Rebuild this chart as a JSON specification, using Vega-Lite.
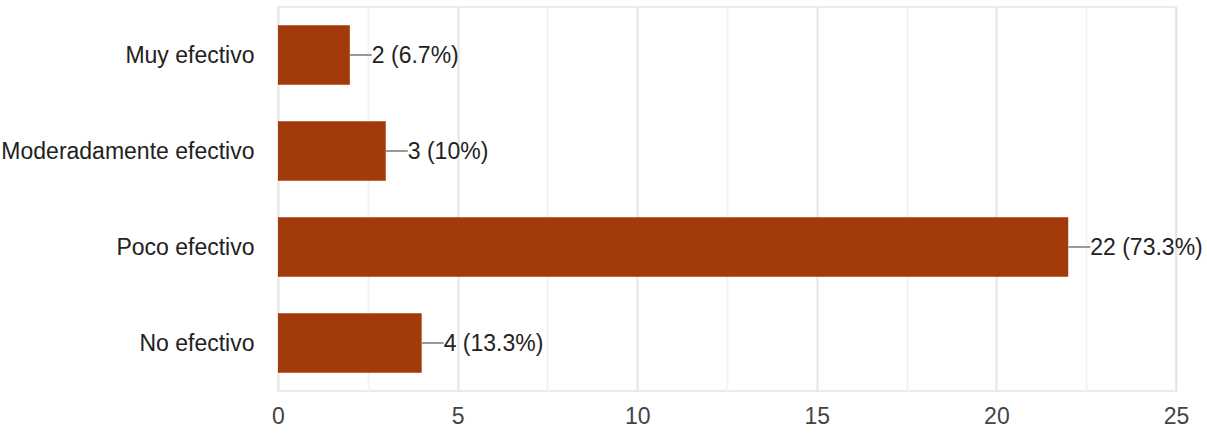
{
  "$schema": "https://vega.github.io/schema/vega-lite/v6.json",
  "width": 898,
  "height": 384,
  "autosize": {"type": "none"},
  "padding": {"left": 278, "top": 7, "right": 31, "bottom": 47},
  "background": "white",
  "config": {
    "view": {"stroke": "#ebebeb", "strokeWidth": 2},
    "font": "Liberation Sans"
  },
  "data": {
    "values": [
      {"cat": "Muy efectivo", "n": 2, "label": "2 (6.7%)"},
      {"cat": "Moderadamente efectivo", "n": 3, "label": "3 (10%)"},
      {"cat": "Poco efectivo", "n": 22, "label": "22 (73.3%)"},
      {"cat": "No efectivo", "n": 4, "label": "4 (13.3%)"}
    ]
  },
  "encoding": {
    "y": {
      "field": "cat",
      "type": "nominal",
      "sort": null,
      "scale": {"paddingInner": 0.38, "paddingOuter": 0.19},
      "axis": {
        "title": null,
        "ticks": false,
        "domain": false,
        "labelFontSize": 23,
        "labelColor": "#222222",
        "labelPadding": 24,
        "labelLimit": 400,
        "labelOffset": 1,
        "labelFont": "Liberation Sans"
      }
    }
  },
  "layer": [
    {
      "mark": {"type": "bar", "color": "#a33a09"},
      "encoding": {
        "x": {
          "field": "n",
          "type": "quantitative",
          "scale": {"domain": [0, 25], "nice": false},
          "axis": {
            "title": null,
            "values": [0, 2.5, 5, 7.5, 10, 12.5, 15, 17.5, 20, 22.5, 25],
            "labelExpr": "datum.value % 5 == 0 ? datum.label : ''",
            "gridColor": {"condition": {"test": "datum.value % 5 == 0", "value": "#e6e6e6"}, "value": "#f3f3f3"},
            "gridWidth": 2,
            "ticks": false,
            "domain": false,
            "labelFlush": false,
            "labelFontSize": 23,
            "labelColor": "#444444",
            "labelPadding": 14,
            "labelFont": "Liberation Sans"
          }
        }
      }
    },
    {
      "mark": {"type": "rule", "color": "#999999", "strokeWidth": 2, "x2Offset": 22},
      "encoding": {
        "x": {"field": "n", "type": "quantitative"},
        "x2": {"field": "n"}
      }
    },
    {
      "mark": {"type": "text", "align": "left", "baseline": "middle", "dx": 22, "dy": 1, "fontSize": 23, "color": "#222222", "font": "Liberation Sans"},
      "encoding": {
        "x": {"field": "n", "type": "quantitative"},
        "text": {"field": "label"}
      }
    },
    {
      "mark": {"type": "rule", "color": "#333333", "strokeWidth": 2},
      "encoding": {
        "x": {"datum": 0}
      }
    }
  ]
}
